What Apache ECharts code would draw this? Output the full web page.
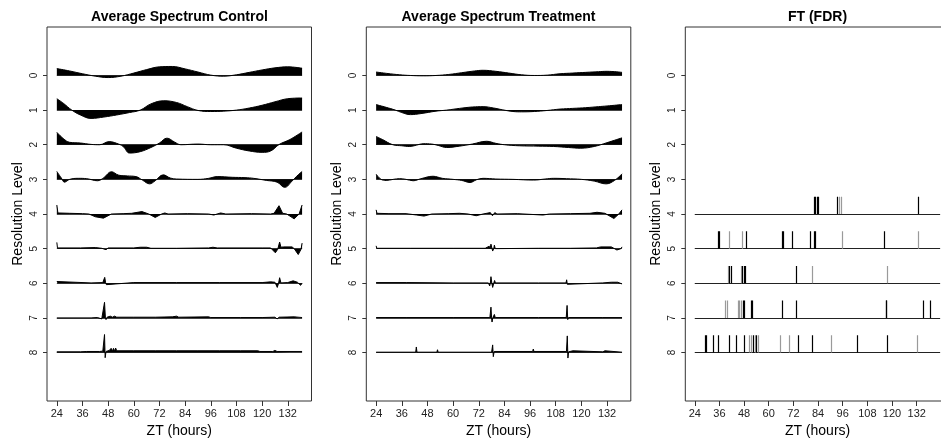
<!DOCTYPE html>
<html>
<head>
<meta charset="utf-8">
<script src="https://cdn.jsdelivr.net/npm/echarts@6/dist/echarts.min.js"></script>
<style>
  html, body { margin: 0; padding: 0; background: #fff; }
  #chart { width: 941px; height: 440px; }
</style>
</head>
<body>
<div id="chart"></div>
<script>
const levels = [0, 1, 2, 3, 4, 5, 6, 7, 8]
const hourTicks = [24, 36, 48, 60, 72, 84, 96, 108, 120, 132]
const titles = ['Average Spectrum Control', 'Average Spectrum Treatment', 'FT (FDR)']

// [hour, amplitude] per resolution level, amplitude in level units (positive = upward)
const ctrl0 = [[24,0.20],[30,0.13],[36,0.05],[42,-0.02],[48,-0.06],[54,-0.02],[60,0.07],[66,0.17],[72,0.25],[78,0.26],[84,0.19],[90,0.10],[96,0.01],[102,-0.02],[108,0.02],[114,0.09],[120,0.16],[126,0.22],[132,0.25],[138.7,0.21]]
const ctrl1 = [[24,0.33],[27,0.20],[31,0.0],[35,-0.14],[40,-0.24],[46,-0.20],[52,-0.14],[58,-0.07],[63,0.0],[68,0.18],[74,0.27],[80,0.22],[85,0.10],[90,-0.01],[96,-0.04],[102,-0.03],[108,0.0],[114,0.06],[120,0.14],[126,0.24],[132,0.33],[138.7,0.35]]
const ctrl2 = [[24,0.36],[27,0.18],[30,0.07],[35,0.05],[40,0.01],[44,0.0],[48.5,0.09],[52,0.04],[55,-0.05],[58,-0.24],[63,-0.20],[68,-0.08],[72,0.05],[75.5,0.19],[79,0.08],[82,0.0],[90,0.02],[96,0.0],[102,0.0],[108,-0.10],[114,-0.18],[120,-0.22],[124,-0.18],[128,0.01],[133,0.15],[138.7,0.37]]
const ctrl3 = [[24,0.23],[26,0.05],[27.6,-0.08],[30,0.0],[34,0.03],[38,0.02],[43,-0.04],[46,0.05],[49.5,0.22],[53,0.12],[57,0.10],[61,0.08],[64,-0.02],[67.4,-0.13],[70,-0.04],[73.8,0.13],[77,0.04],[80,0.01],[90,0.0],[95,0.03],[99,0.08],[106,0.06],[112,0.05],[116,0.03],[122,-0.03],[127,-0.08],[130.6,-0.23],[134,-0.05],[136,0.08],[138.7,0.23]]
const ctrl4 = [[24,0.26],[24.5,0.03],[30,0.02],[36,0.01],[39,0.0],[42,-0.08],[45.8,-0.12],[49.5,0.0],[55,0.01],[59,0.02],[63.8,0.07],[67,0.0],[70,-0.10],[73,0.0],[74.5,0.03],[76,0.0],[85,0.01],[95,0.0],[97.4,-0.03],[100.6,0.03],[103,0.0],[115,0.01],[124,0.0],[125.6,0.02],[127.9,0.24],[129.6,0.02],[130.3,-0.03],[131.5,0.0],[135,-0.14],[137.3,0.0],[138.7,0.26]]
const ctrl5 = [[24,0.18],[24.3,0.02],[35,0.02],[42,0.03],[45,0.01],[47,-0.03],[48,0.02],[60,0.02],[63,0.04],[66,0.04],[68,0.01],[80,0.01],[95,0.02],[97,0.04],[99,0.02],[120,0.02],[124,0.02],[126.2,-0.12],[127.3,-0.02],[127.7,0.02],[128.2,0.19],[128.8,0.04],[130,0.05],[134,0.05],[135,0.0],[136.9,-0.17],[138.2,-0.02],[138.7,0.16]]
const ctrl6 = [[24,0.05],[24.3,0.01],[40,0.01],[45.5,0.02],[46.4,0.17],[46.8,0.02],[47.2,-0.04],[48,0.01],[60,0.02],[80,0.02],[100,0.02],[120,0.02],[124,0.04],[126,0.03],[127.1,-0.12],[127.7,0.0],[128.2,0.16],[128.8,0.01],[132,0.02],[134.5,0.07],[136.5,0.03],[138,-0.06],[138.7,0.0]]
const ctrl7 = [[24,0.0],[40,0.0],[43,0.01],[45,-0.03],[45.8,0.0],[46.3,0.45],[46.7,0.02],[47,-0.05],[47.5,0.02],[49,0.05],[50,0.02],[51,0.05],[52,0.02],[60,0.02],[70,0.02],[78,0.03],[80,0.05],[81,0.02],[95,0.03],[96,0.01],[110,0.01],[120,0.01],[126,0.02],[127,-0.03],[128,0.02],[135,0.03],[138.7,0.01]]
const ctrl8 = [[24,0.02],[35,0.02],[38,0.03],[44,0.03],[45.5,0.04],[46.3,0.52],[46.6,-0.15],[47,0.03],[48.5,0.06],[49.4,0.12],[50,0.04],[50.5,0.12],[51,0.04],[51.5,0.13],[52,0.05],[60,0.05],[70,0.05],[80,0.05],[90,0.05],[100,0.05],[110,0.05],[118,0.05],[119,0.03],[125,0.03],[126,0.06],[127,0.03],[138.7,0.03]]

const treat0 = [[24,0.10],[29,0.06],[35,0.02],[40,0.0],[46,-0.01],[52,0.0],[58,0.03],[64,0.08],[70,0.13],[74,0.15],[80,0.12],[86,0.07],[92,0.02],[98,0.0],[104,0.01],[110,0.05],[116,0.07],[122,0.09],[128,0.11],[132,0.12],[139,0.09]]
const treat1 = [[24,0.16],[28.7,0.08],[33,0.0],[36,-0.07],[40,-0.13],[45,-0.10],[52,-0.03],[57,0.0],[63,0.05],[69,0.09],[74,0.10],[79,0.06],[83,0.01],[88,-0.04],[92,-0.05],[98,-0.04],[104,-0.01],[110,0.03],[116,0.05],[122,0.07],[128,0.10],[132,0.12],[139,0.16]]
const treat2 = [[24,0.24],[27,0.15],[31.8,0.0],[36,-0.03],[39.7,-0.05],[43,-0.01],[46,0.03],[50,0.02],[53,-0.02],[57,-0.08],[63,-0.04],[69,0.02],[75.7,0.10],[80,0.04],[84,0.0],[91,-0.03],[100,-0.04],[107,-0.05],[114,-0.08],[119.7,-0.10],[126,-0.05],[132,0.06],[139,0.20]]
const treat3 = [[24,0.15],[26.3,0.0],[28.7,-0.03],[32,0.0],[35,0.02],[38,0.0],[41.3,-0.04],[45,0.02],[50.6,0.09],[55,0.03],[60,0.0],[64,-0.03],[67.9,-0.09],[71,-0.01],[74,0.03],[80,0.01],[88,0.0],[97.7,-0.02],[103,0.01],[107,0.03],[113,0.02],[120,0.0],[126,-0.05],[131.5,-0.13],[135.5,-0.03],[139,0.16]]
const treat4 = [[24,0.12],[24.4,0.02],[30,0.01],[38,0.01],[43,-0.03],[46.4,-0.06],[50,0.0],[58,0.01],[63,0.02],[67,0.0],[70.8,-0.05],[74,0.0],[77.4,0.04],[78.4,-0.05],[79.5,0.04],[80.5,0.0],[90,0.01],[102,-0.03],[105,0.0],[115,0.01],[124,0.02],[127.3,0.05],[131,0.02],[135.2,-0.13],[137.5,0.0],[139,0.12]]
const treat5 = [[24,0.08],[24.3,0.01],[40,0.01],[60,0.01],[75,0.01],[76.9,0.07],[77.3,0.0],[77.7,0.13],[78.2,0.0],[78.5,-0.07],[79,0.0],[79.3,0.10],[79.7,0.0],[80,-0.05],[80.5,0.01],[100,0.01],[115,0.01],[127,0.02],[129,0.05],[134,0.05],[136.6,-0.04],[138.5,0.0],[139,0.05]]
const treat6 = [[24,0.02],[38.3,0.02],[38.6,0.05],[39,0.01],[60,0.01],[76.5,0.01],[77.1,-0.08],[77.4,0.0],[77.7,0.19],[78.1,0.0],[78.5,-0.12],[79,0.0],[79.4,0.08],[79.8,0.01],[100,0.01],[112.8,0.01],[113.1,0.10],[113.4,-0.03],[113.8,0.01],[130,0.01],[134,0.03],[137,0.03],[139,-0.02]]
const treat7 = [[24,0.01],[38,0.01],[38.3,0.06],[38.7,0.01],[60,0.01],[77.2,0.01],[77.7,0.31],[78.0,0.0],[78.2,-0.12],[78.6,0.01],[79.3,0.10],[79.7,0.01],[100,0.01],[112.9,0.01],[113.3,0.36],[113.6,-0.05],[114,0.01],[129.7,0.01],[130,0.05],[130.3,0.01],[139,0.01]]
const treat8 = [[24,0.01],[42.5,0.01],[42.8,0.16],[43.1,0.01],[52.4,0.01],[52.7,0.08],[53,0.01],[78,0.01],[78.5,0.22],[78.8,-0.12],[79.2,0.03],[97.2,0.03],[97.5,0.10],[97.8,0.03],[113,0.03],[113.4,0.48],[113.7,-0.16],[114,0.02],[116,0.05],[116.3,0.02],[130,0.02],[131,0.05],[131.3,0.01],[139,0.01]]

// FDR-significant hours per level (levels 4..8), black and grey marks
const fdrBlack4 = [82.3, 82.8, 83.6, 84.1, 93.5, 132.6]
const fdrGray4 = [94.3, 95.2]
const fdrBlack5 = [35.4, 35.9, 49.1, 66.8, 67.2, 71.6, 80.4, 82.1, 82.6, 116.0]
const fdrGray5 = [40.7, 47.0, 96.0, 132.6]
const fdrBlack6 = [41.0, 41.7, 47.3, 47.9, 48.5, 73.4]
const fdrGray6 = [40.4, 46.7, 81.1, 117.8]
const fdrBlack7 = [47.6, 48.0, 51.4, 52.0, 66.8, 73.4, 117.0, 117.4, 135.3, 138.7]
const fdrGray7 = [38.9, 39.9, 45.1, 45.7, 46.4]
const fdrBlack8 = [29.0, 29.4, 32.8, 35.2, 40.7, 44.1, 48.0, 52.4, 54.0, 74.6, 81.1, 103.3, 117.5]
const fdrGray8 = [50.7, 51.4, 53.2, 54.8, 65.7, 70.0, 90.3, 132.1]

const controlLevels = [ctrl0, ctrl1, ctrl2, ctrl3, ctrl4, ctrl5, ctrl6, ctrl7, ctrl8]
const treatLevels = [treat0, treat1, treat2, treat3, treat4, treat5, treat6, treat7, treat8]
const fdrLevels = [4, 5, 6, 7, 8]
const fdrBlack = [fdrBlack4, fdrBlack5, fdrBlack6, fdrBlack7, fdrBlack8]
const fdrGray = [fdrGray4, fdrGray5, fdrGray6, fdrGray7, fdrGray8]

const FONT = 'Liberation Sans, Arial, sans-serif'
const panelLeft = [47, 366.3, 685.3]
const panelCenter = [179.5, 498.5, 817.5]
const xRange = [[19.4, 143.1], [19.4, 143.1], [19.4, 148.1]]

const chart = echarts.init(document.getElementById('chart'), null, { renderer: 'canvas' })

const grids = panelLeft.map((left) => ({
  left,
  top: 27,
  width: 264.5,
  height: 374,
  outerBoundsMode: 'none',
  containLabel: false,
  show: true,
  borderColor: '#333',
  borderWidth: 1,
  backgroundColor: 'transparent',
}))

const xAxes = xRange.map((r, i) => ({
  gridIndex: i,
  type: 'value',
  min: r[0],
  max: r[1],
  axisLine: { show: false, onZero: false },
  axisTick: { show: true, customValues: hourTicks, length: 5, lineStyle: { color: '#333' } },
  axisLabel: { customValues: hourTicks, fontSize: 11, color: '#222', margin: 7, fontFamily: FONT },
  splitLine: { show: false },
  name: 'ZT (hours)',
  nameLocation: 'middle',
  nameGap: 22,
  nameTextStyle: { fontSize: 14, color: '#000', fontFamily: FONT },
}))

const yAxes = [0, 1, 2].map((i) => ({
  gridIndex: i,
  type: 'value',
  inverse: true,
  min: -1.4,
  max: 9.4,
  axisLine: { show: false, onZero: false },
  axisTick: { show: true, customValues: levels, length: 4, lineStyle: { color: '#333' } },
  axisLabel: { customValues: levels, rotate: 90, fontSize: 10, color: '#222', margin: 8, fontFamily: FONT },
  splitLine: { show: false },
  name: 'Resolution Level',
  nameLocation: 'middle',
  nameGap: 22,
  nameTextStyle: { fontSize: 14, color: '#000', fontFamily: FONT },
}))

const series = []

const addSpectrum = (panel, levelData, end) => {
  series.push({
    type: 'lines',
    coordinateSystem: 'cartesian2d',
    xAxisIndex: panel,
    yAxisIndex: panel,
    silent: true,
    lineStyle: { color: '#444', width: 1, opacity: 1 },
    data: levels.map((lv) => ({ coords: [[24, lv], [end, lv]] })),
  })
  levelData.forEach((pts, lv) => {
    series.push({
      type: 'line',
      xAxisIndex: panel,
      yAxisIndex: panel,
      symbol: 'none',
      smooth: lv < 4 ? 0.4 : false,
      silent: true,
      data: pts.map(([h, a]) => [h, lv - a]),
      lineStyle: { color: '#000', width: 1 },
      areaStyle: { color: '#000', opacity: 1, origin: lv },
    })
  })
}

addSpectrum(0, controlLevels, 138.7)
addSpectrum(1, treatLevels, 139)

series.push({
  type: 'lines',
  coordinateSystem: 'cartesian2d',
  xAxisIndex: 2,
  yAxisIndex: 2,
  silent: true,
  lineStyle: { color: '#222', width: 1, opacity: 1 },
  data: fdrLevels.map((lv) => ({ coords: [[24, lv], [143.4, lv]] })),
})
const fdrMarks = (hoursByLevel, color, width) => ({
  type: 'lines',
  coordinateSystem: 'cartesian2d',
  xAxisIndex: 2,
  yAxisIndex: 2,
  silent: true,
  lineStyle: { color, width, opacity: 1 },
  data: hoursByLevel.flatMap((hrs, k) =>
    hrs.map((h) => ({ coords: [[h, fdrLevels[k]], [h, fdrLevels[k] - 0.5]] })),
  ),
})
series.push(fdrMarks(fdrGray, '#9a9a9a', 1.2))
series.push(fdrMarks(fdrBlack, '#000', 1.2))

chart.setOption({
  animation: false,
  title: titles.map((t, i) => ({
    text: t,
    left: panelCenter[i],
    top: 10,
    padding: 0,
    textAlign: 'center',
    textStyle: { fontSize: 14, fontWeight: 'bold', color: '#000', fontFamily: FONT },
  })),
  grid: grids,
  xAxis: xAxes,
  yAxis: yAxes,
  series,
})
</script>
</body>
</html>
